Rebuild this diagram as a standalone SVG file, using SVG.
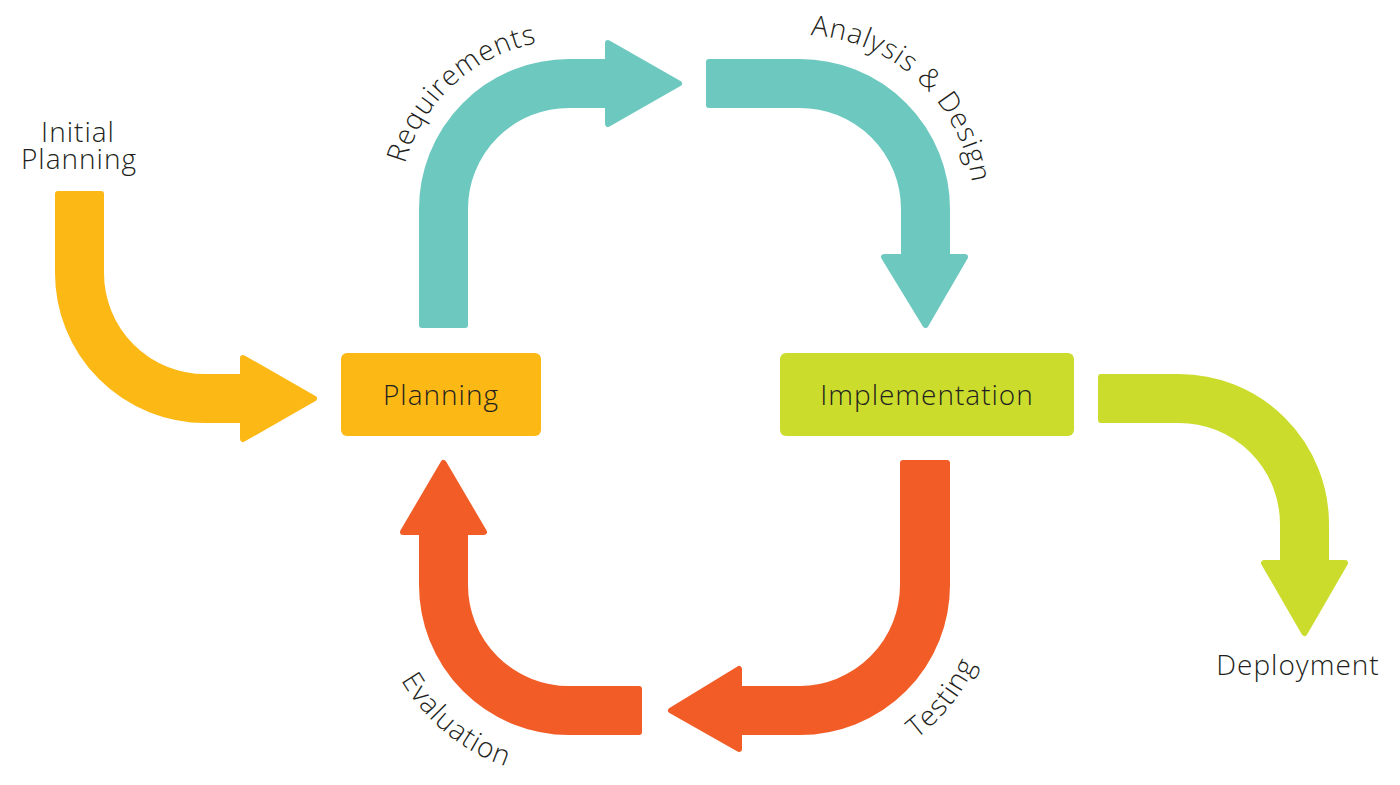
<svg xmlns="http://www.w3.org/2000/svg" width="1400" height="785" viewBox="0 0 1400 785">
<style>
.lbl{font-family:"Open Sans","Liberation Sans",sans-serif;font-weight:300;font-size:28px;fill:#231f20;letter-spacing:1px}
.arr{stroke-width:6;stroke-linejoin:round}
.y{fill:#fcb815;stroke:#fcb815}
.t{fill:#6dc9bf;stroke:#6dc9bf}
.r{fill:#f25c26;stroke:#f25c26}
.g{fill:#cbdc2c;stroke:#cbdc2c}
</style>
<defs>
<path id="pReq" d="M 400.6 183.5 A 170 170 0 0 1 557.2 40.6"/>
<path id="pAna" d="M 793.9 35.1 A 174 174 0 0 1 973.8 199.9"/>
<path id="pTest" d="M 893.5 753.7 A 193 193 0 0 0 985.5 638.2"/>
<path id="pEval" d="M 386.6 648.7 A 192 192 0 0 0 540 774.6"/>
</defs>
<g id="connectors">
<path id="c-initial" class="arr y" d="M 58 194 L 101 194 L 101 273 A 104 104 0 0 0 205 377 L 243 377 L 243 358 L 314 398.5 L 243 439 L 243 420 L 205 420 A 147 147 0 0 1 58 273 Z"/>
<path id="c-requirements" class="arr t" d="M 422 325 L 422 209 A 147 147 0 0 1 569 62 L 608 62 L 608 43 L 679 83.5 L 608 124 L 608 105 L 569 105 A 104 104 0 0 0 465 209 L 465 325 Z"/>
<path id="c-analysis" class="arr t" d="M 709 62 L 800 62 A 147 147 0 0 1 947 209 L 947 257 L 965 257 L 925.5 325 L 884 257 L 904 257 L 904 209 A 104 104 0 0 0 800 105 L 709 105 Z"/>
<path id="c-testing" class="arr r" d="M 903 463 L 947 463 L 947 585 A 147 147 0 0 1 800 732 L 739 732 L 739 749 L 671 710.5 L 739 669 L 739 689 L 800 689 A 104 104 0 0 0 903 585 Z"/>
<path id="c-evaluation" class="arr r" d="M 639 689 L 639 732 L 569 732 A 147 147 0 0 1 422 585 L 422 532 L 403 532 L 443.5 463 L 484 532 L 465 532 L 465 585 A 104 104 0 0 0 569 689 Z"/>
<path id="c-deployment" class="arr g" d="M 1101 377 L 1179 377 A 147 147 0 0 1 1326 524 L 1326 563 L 1345 563 L 1304.5 633 L 1264 563 L 1283 563 L 1283 524 A 104 104 0 0 0 1179 420 L 1101 420 Z"/>
</g>
<g id="n-initial">
<text class="lbl" text-anchor="middle"><tspan x="78" y="142">Initial</tspan><tspan x="79" y="169">Planning</tspan></text>
</g>
<g id="n-planning">
<rect x="341" y="353" width="200" height="83" rx="6" fill="#fcb815"/>
<text class="lbl" x="441" y="405" text-anchor="middle">Planning</text>
</g>
<g id="n-implementation">
<rect x="780" y="353" width="294" height="83" rx="6" fill="#cbdc2c"/>
<text class="lbl" x="927" y="405" text-anchor="middle">Implementation</text>
</g>
<g id="n-deployment">
<text class="lbl" x="1298" y="675" text-anchor="middle">Deployment</text>
</g>
<g id="labels">
<text class="lbl" text-anchor="middle"><textPath href="#pReq" startOffset="50%">Requirements</textPath></text>
<text class="lbl" text-anchor="middle"><textPath href="#pAna" startOffset="50%">Analysis &amp; Design</textPath></text>
<text class="lbl" text-anchor="middle"><textPath href="#pTest" startOffset="50%">Testing</textPath></text>
<text class="lbl" text-anchor="middle"><textPath href="#pEval" startOffset="50%">Evaluation</textPath></text>
</g>
</svg>
